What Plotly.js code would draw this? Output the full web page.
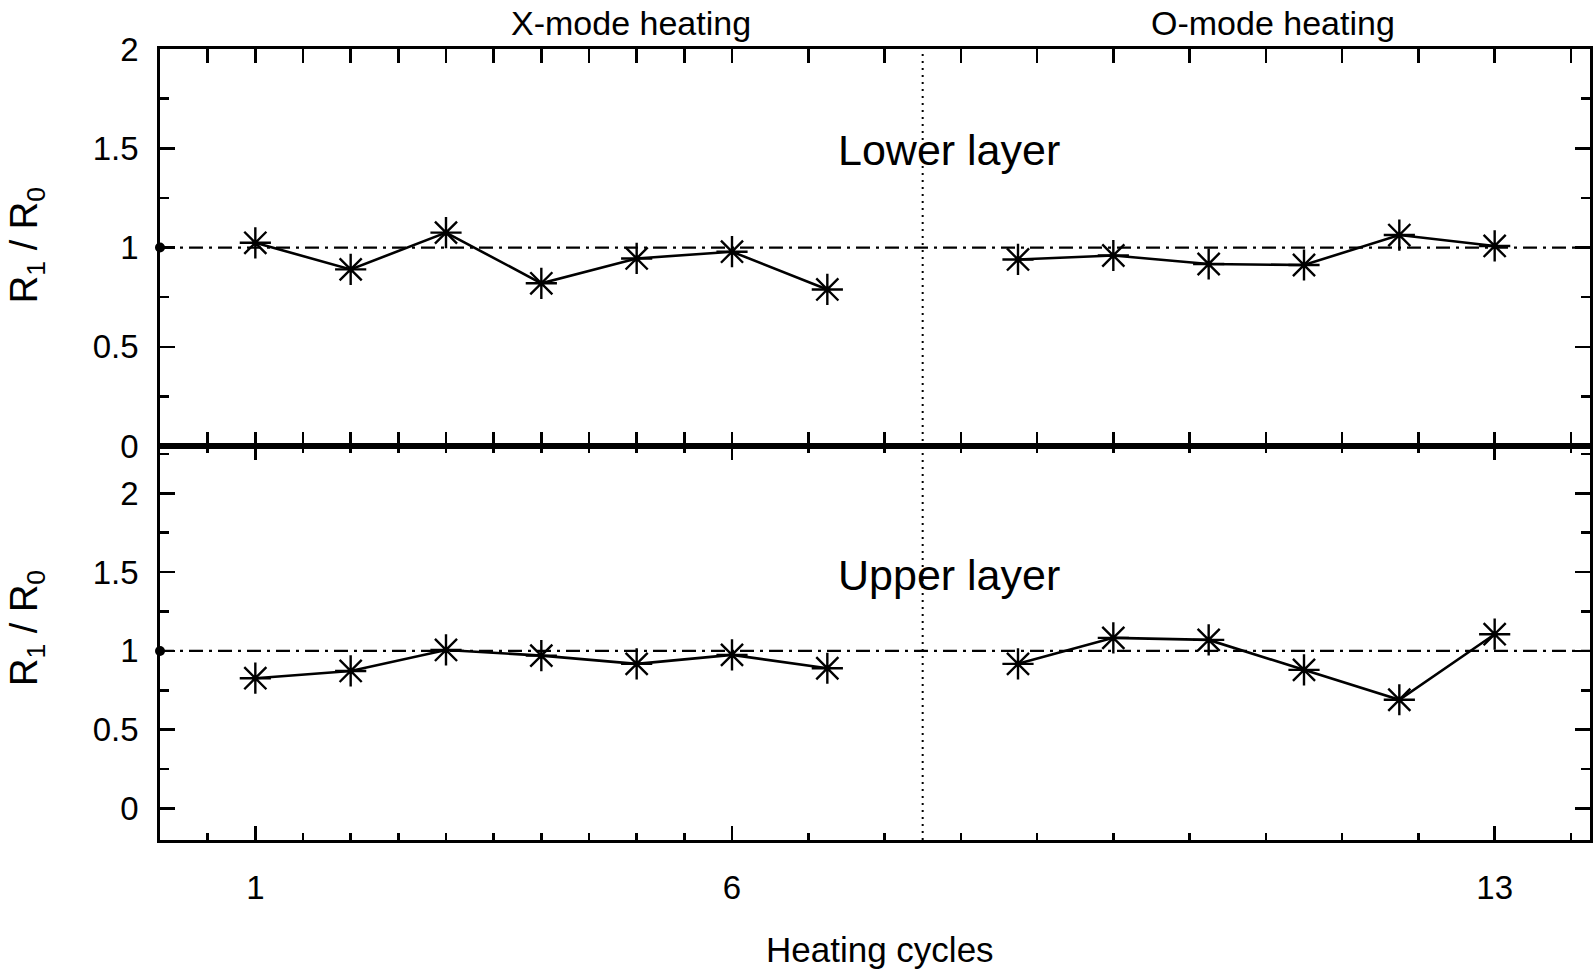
<!DOCTYPE html>
<html>
<head>
<meta charset="utf-8">
<script src="https://cdn.plot.ly/plotly-3.0.1.min.js"></script>
<style>html,body{margin:0;padding:0;background:#fff;}#chart{width:1595px;height:970px;}</style>
</head>
<body>
<div id="chart"></div>
<script>
// Positions on the x axis (gap at 8 separates the two heating modes)
const xModePos = [1, 2, 3, 4, 5, 6, 7];
const oModePos = [9, 10, 11, 12, 13, 14];

// Lower layer R1/R0
const lowerX = [1.024, 0.89, 1.075, 0.82, 0.945, 0.979, 0.789];
const lowerO = [0.94, 0.96, 0.917, 0.912, 1.063, 1.008];

// Upper layer R1/R0
const upperX = [0.827, 0.873, 1.006, 0.97, 0.918, 0.975, 0.89];
const upperO = [0.918, 1.083, 1.07, 0.88, 0.69, 1.106];

// Reference level and separator
const refX = [0, 15];
const refY = [1, 1];
const sepX = 8;

// Tick labels
const xMajorVals = [1, 6, 14];
const xMajorText = ['1', '6', '13'];
const xMinorVals = [0.5, 1.5, 2, 2.5, 3, 3.5, 4, 4.5, 5, 5.5, 6.8, 7.6, 8.4, 9.2, 10, 10.8, 11.6, 12.4, 13.2, 14.8];
const yTickVals = [0, 0.5, 1, 1.5, 2];
const yTickText = ['0', '0.5', '1', '1.5', '2'];

const FONT = 'Liberation Sans, Arial, Helvetica, sans-serif';
const BLACK = '#000';

function dataTrace(x, y, ya) {
  return {
    x: x, y: y, xaxis: 'x', yaxis: ya, type: 'scatter', mode: 'lines+markers',
    line: {color: BLACK, width: 2.6},
    marker: {symbol: 'asterisk-open', size: 26, color: BLACK, line: {color: BLACK, width: 2.4}},
    showlegend: false, hoverinfo: 'x+y'
  };
}
function refTrace(ya) {
  return {
    x: refX, y: refY, xaxis: 'x', yaxis: ya, type: 'scatter', mode: 'lines',
    line: {color: BLACK, width: 2.2, dash: '14px,6px,3px,6px'},
    showlegend: false, hoverinfo: 'skip'
  };
}
function dotTrace(ya) {
  return {
    x: [refX[0]], y: [refY[0]], xaxis: 'x', yaxis: ya, type: 'scatter', mode: 'markers',
    marker: {symbol: 'circle', size: 10, color: BLACK},
    cliponaxis: false, showlegend: false, hoverinfo: 'skip'
  };
}

const traces = [
  refTrace('y'), dotTrace('y'),
  refTrace('y2'), dotTrace('y2'),
  dataTrace(xModePos, lowerX, 'y'), dataTrace(oModePos, lowerO, 'y'),
  dataTrace(xModePos, upperX, 'y2'), dataTrace(oModePos, upperO, 'y2')
];

const yCommon = {
  tickmode: 'array', tickvals: yTickVals, ticktext: yTickText,
  ticks: 'inside', ticklen: 15, tickwidth: 2.5, tickcolor: BLACK,
  minor: {dtick: 0.25, tick0: 0, ticks: 'inside', ticklen: 9, tickwidth: 2.5, tickcolor: BLACK},
  showline: true, linecolor: BLACK, linewidth: 2.8, mirror: 'allticks',
  showgrid: false, zeroline: false,
  tickfont: {family: FONT, size: 33, color: BLACK},
  ticklabelstandoff: 12, fixedrange: true
};

const layout = {
  width: 1595, height: 970,
  margin: {l: 160, r: 5, t: 49, b: 130},
  paper_bgcolor: '#fff', plot_bgcolor: '#fff',
  font: {family: FONT, color: BLACK},
  xaxis: {
    range: [0, 15], anchor: 'y2',
    tickmode: 'array', tickvals: xMajorVals, ticktext: xMajorText,
    ticks: 'inside', ticklen: 14, tickwidth: 2.5, tickcolor: BLACK,
    minor: {tickmode: 'array', tickvals: xMinorVals, ticks: 'inside', ticklen: 7, tickwidth: 2.5, tickcolor: BLACK},
    showline: true, linecolor: BLACK, linewidth: 2.8, mirror: 'allticks',
    showgrid: false, zeroline: false,
    tickfont: {family: FONT, size: 33, color: BLACK},
    ticklabelstandoff: 17, fixedrange: true
  },
  yaxis: Object.assign({}, yCommon, {domain: [0.498, 1], range: [0, 2]}),
  yaxis2: Object.assign({}, yCommon, {domain: [0, 0.498], range: [-0.2, 2.3]}),
  shapes: [
    {type: 'line', xref: 'x', yref: 'paper', x0: sepX, x1: sepX, y0: 0, y1: 1,
     line: {color: BLACK, width: 2, dash: '2px,5px'}}
  ],
  annotations: [
    {text: 'X-mode heating', xref: 'x', yref: 'paper', x: 4.94, y: 1.0594, showarrow: false,
     xanchor: 'center', yanchor: 'top', font: {family: FONT, size: 34, color: BLACK}},
    {text: 'O-mode heating', xref: 'x', yref: 'paper', x: 11.67, y: 1.0594, showarrow: false,
     xanchor: 'center', yanchor: 'top', font: {family: FONT, size: 34, color: BLACK}},
    {text: 'Lower layer', xref: 'x', yref: 'y', x: 8.28, y: 1.49, showarrow: false,
     xanchor: 'center', yanchor: 'middle', font: {family: FONT, size: 43, color: BLACK}},
    {text: 'Upper layer', xref: 'x', yref: 'y2', x: 8.28, y: 1.48, showarrow: false,
     xanchor: 'center', yanchor: 'middle', font: {family: FONT, size: 43, color: BLACK}},
    {text: 'Heating cycles', xref: 'x', yref: 'paper', x: 7.55, y: -0.138, showarrow: false,
     xanchor: 'center', yanchor: 'middle', font: {family: FONT, size: 35, color: BLACK}},
    {text: 'R<sub>1</sub> / R<sub>0</sub>', xref: 'paper', yref: 'paper', x: -0.093, y: 0.752,
     textangle: -90, showarrow: false, xanchor: 'center', yanchor: 'middle',
     font: {family: FONT, size: 38, color: BLACK}},
    {text: 'R<sub>1</sub> / R<sub>0</sub>', xref: 'paper', yref: 'paper', x: -0.093, y: 0.268,
     textangle: -90, showarrow: false, xanchor: 'center', yanchor: 'middle',
     font: {family: FONT, size: 38, color: BLACK}}
  ]
};

Plotly.newPlot('chart', traces, layout, {displayModeBar: false, staticPlot: true});
</script>
</body>
</html>
